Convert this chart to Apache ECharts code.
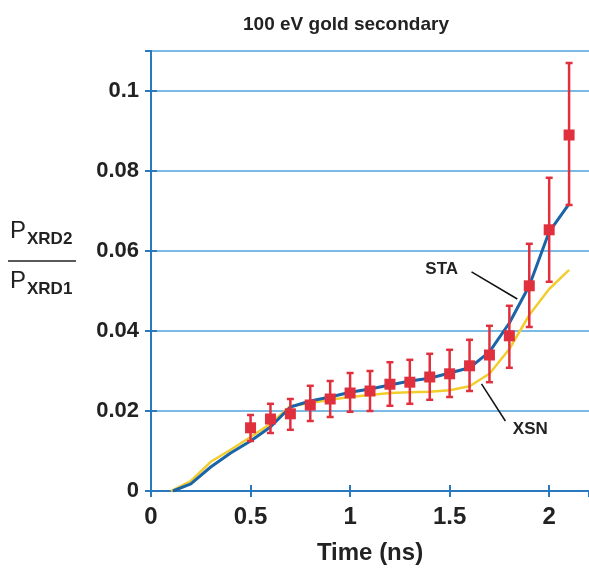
<!DOCTYPE html>
<html>
<head>
<meta charset="utf-8">
<title>100 eV gold secondary</title>
<script src="https://cdn.jsdelivr.net/npm/echarts@6/dist/echarts.min.js"></script>
<style>
  html, body { margin: 0; padding: 0; background: #fff; }
  #chart { width: 589px; height: 570px; }
</style>
</head>
<body>
<div id="chart"></div>
<script>
/* ================================
   DATA
================================ */
const timeNs     = [0.5, 0.6, 0.7, 0.8, 0.9, 1.0, 1.1, 1.2, 1.3, 1.4, 1.5, 1.6, 1.7, 1.8, 1.9, 2.0, 2.1];
const measured   = [0.0158, 0.018, 0.0193, 0.0215, 0.023, 0.0245, 0.025, 0.0267, 0.0272, 0.0285, 0.0293, 0.0313, 0.034, 0.0388, 0.0513, 0.0653, 0.089];
const errLow     = [0.0125, 0.0145, 0.0153, 0.0175, 0.0185, 0.0198, 0.02, 0.0213, 0.0218, 0.0228, 0.0235, 0.025, 0.0272, 0.0308, 0.041, 0.0523, 0.0715];
const errHigh    = [0.019, 0.0218, 0.023, 0.0263, 0.0275, 0.0295, 0.03, 0.0322, 0.0328, 0.0343, 0.0353, 0.0378, 0.0413, 0.0463, 0.0618, 0.0783, 0.107];

const staTime    = [0.11, 0.2, 0.3, 0.4, 0.5, 0.6, 0.7, 0.8, 0.9, 1.0, 1.1, 1.2, 1.3, 1.4, 1.5, 1.6, 1.7, 1.8, 1.9, 2.0, 2.1];
const staValues  = [0, 0.0018, 0.006, 0.0095, 0.0125, 0.016, 0.021, 0.0225, 0.0235, 0.0247, 0.0255, 0.0265, 0.0275, 0.0282, 0.0295, 0.0308, 0.0348, 0.042, 0.0513, 0.0648, 0.0718];

const xsnTime    = [0.1, 0.2, 0.3, 0.4, 0.5, 0.6, 0.7, 0.8, 0.9, 1.0, 1.1, 1.2, 1.3, 1.4, 1.5, 1.6, 1.7, 1.8, 1.9, 2.0, 2.1];
const xsnValues  = [0, 0.0025, 0.0073, 0.0103, 0.0135, 0.0168, 0.0212, 0.022, 0.0228, 0.0235, 0.024, 0.0245, 0.0247, 0.0248, 0.0252, 0.0262, 0.0293, 0.0355, 0.044, 0.0505, 0.0553];

const xTicks = [0, 0.5, 1, 1.5, 2];
const yTicks = [0, 0.02, 0.04, 0.06, 0.08, 0.1];

/* ================================
   STYLE
================================ */
const FONT = "Liberation Sans, Arial, sans-serif";
const AXIS_BLUE = "#2a78bd";
const GRID_BLUE = "#4ea3dc";
const STA_BLUE = "#1b64a8";
const XSN_YELLOW = "#f2cd2e";
const RED = "#e0303e";

const chart = echarts.init(document.getElementById("chart"));

const zip = (xs, ys) => xs.map((x, i) => [x, ys[i]]);

const axisCommon = {
  min: 0,
  axisLine: { show: true, lineStyle: { color: AXIS_BLUE, width: 2 } },
  axisTick: { show: true, inside: true, length: 6, lineStyle: { color: AXIS_BLUE, width: 2 } }
};

const option = {
  animation: false,
  backgroundColor: "#fff",
  title: {
    text: "100 eV gold secondary",
    left: 341, top: 10, textAlign: "center",
    textStyle: { fontFamily: FONT, fontSize: 19, fontWeight: "bold", color: "#222" }
  },
  grid: { left: 151, right: -2, top: 51, bottom: 78 },
  xAxis: [
    Object.assign({}, axisCommon, {
      type: "value", max: 2.2, interval: 0.5, position: "bottom",
      splitLine: { show: false },
      axisLabel: {
        margin: 14, fontFamily: FONT, fontSize: 24, fontWeight: "bold", color: "#222",
        showMaxLabel: false,
        formatter: v => xTicks.includes(+v.toFixed(2)) ? String(v) : ""
      },
      name: "Time (ns)", nameLocation: "middle", nameGap: 50,
      nameTextStyle: { fontFamily: FONT, fontSize: 24, fontWeight: "bold", color: "#222" }
    }),
    Object.assign({}, axisCommon, {
      type: "value", max: 2.2, interval: 0.5, position: "top",
      splitLine: { show: false }, axisLabel: { show: false }
    })
  ],
  yAxis: [
    Object.assign({}, axisCommon, {
      type: "value", max: 0.11, interval: 0.02, position: "left",
      splitLine: { show: true, lineStyle: { color: GRID_BLUE, width: 1.5 } },
      axisLabel: {
        margin: 12, fontFamily: FONT, fontSize: 22, fontWeight: "bold", color: "#222",
        showMaxLabel: false,
        formatter: v => yTicks.includes(+v.toFixed(3)) ? String(+v.toFixed(3)) : ""
      }
    }),
    Object.assign({}, axisCommon, {
      type: "value", max: 0.11, interval: 0.02, position: "right",
      splitLine: { show: false }, axisLabel: { show: false }
    })
  ],
  series: [
    {
      name: "XSN", type: "line", data: zip(xsnTime, xsnValues),
      symbol: "none", lineStyle: { color: XSN_YELLOW, width: 2.5 }, z: 2
    },
    {
      name: "STA", type: "line", data: zip(staTime, staValues),
      symbol: "none", lineStyle: { color: STA_BLUE, width: 3 }, z: 3
    },
    {
      name: "error", type: "custom",
      data: timeNs.map((t, i) => [t, errLow[i], errHigh[i]]),
      renderItem: (params, api) => {
        const lo = api.coord([api.value(0), api.value(1)]);
        const hi = api.coord([api.value(0), api.value(2)]);
        const cap = 3.5;
        const style = { stroke: RED, lineWidth: 2.5 };
        return {
          type: "group",
          children: [
            { type: "line", shape: { x1: lo[0], y1: lo[1], x2: hi[0], y2: hi[1] }, style },
            { type: "line", shape: { x1: lo[0] - cap, y1: lo[1], x2: lo[0] + cap, y2: lo[1] }, style },
            { type: "line", shape: { x1: hi[0] - cap, y1: hi[1], x2: hi[0] + cap, y2: hi[1] }, style }
          ]
        };
      },
      z: 4
    },
    {
      name: "measured", type: "scatter", data: zip(timeNs, measured),
      symbol: "rect", symbolSize: 11, itemStyle: { color: RED, opacity: 1 }, z: 5
    },
    {
      name: "annotations", type: "line", data: [], symbol: "none",
      markLine: {
        silent: true, symbol: "none",
        lineStyle: { color: "#111", width: 1.5, type: "solid" },
        label: { show: false },
        data: [
          [{ coord: [1.61, 0.0548] }, { coord: [1.84, 0.048] }],
          [{ coord: [1.66, 0.0268] }, { coord: [1.78, 0.0175] }]
        ]
      },
      markPoint: {
        silent: true, symbol: "circle", symbolSize: 0,
        label: {
          show: true, position: "inside", fontFamily: FONT, fontSize: 17,
          fontWeight: "bold", color: "#222", formatter: p => p.name
        },
        data: [
          { name: "STA", coord: [1.46, 0.0553] },
          { name: "XSN", coord: [1.905, 0.0153] }
        ]
      }
    }
  ],
  graphic: [
    {
      type: "text", left: 10, top: 219,
      style: {
        text: "{p|P}{s|XRD2}",
        rich: {
          p: { fontFamily: FONT, fontSize: 24, fill: "#222" },
          s: { fontFamily: FONT, fontSize: 17, fontWeight: "bold", fill: "#222", padding: [16, 0, 0, 1] }
        }
      }
    },
    {
      type: "line", shape: { x1: 8, y1: 261, x2: 76, y2: 261 },
      style: { stroke: "#222", lineWidth: 1.5 }
    },
    {
      type: "text", left: 10, top: 269,
      style: {
        text: "{p|P}{s|XRD1}",
        rich: {
          p: { fontFamily: FONT, fontSize: 24, fill: "#222" },
          s: { fontFamily: FONT, fontSize: 17, fontWeight: "bold", fill: "#222", padding: [16, 0, 0, 1] }
        }
      }
    }
  ]
};

chart.setOption(option);
</script>
</body>
</html>
